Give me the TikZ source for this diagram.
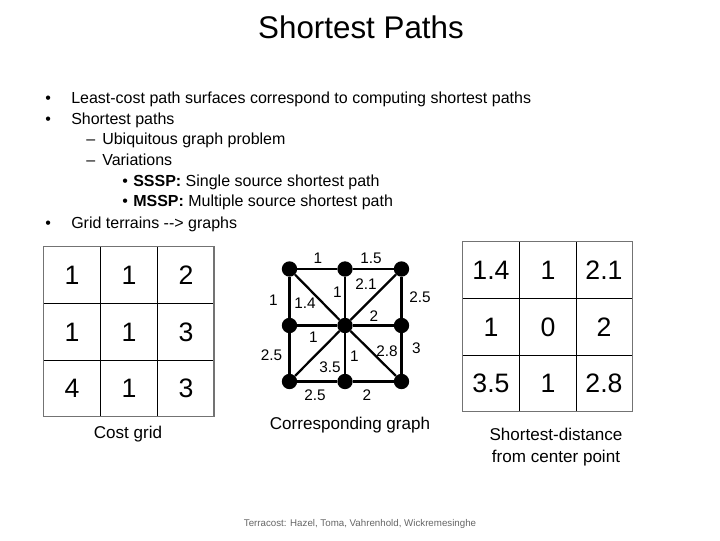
\documentclass[tikz,border=0pt]{standalone}
\usepackage{fontspec}
\setmainfont{Liberation Sans}
\begin{document}
\begin{tikzpicture}[x=0.75pt,y=-0.75pt,
  titletext/.style={font=\fontsize{23.5}{28}\selectfont, inner sep=0},
  bodytext/.style={font=\fontsize{12}{14}\selectfont, anchor=base west, inner sep=0},
  cellnum/.style={font=\fontsize{20}{24}\selectfont, inner sep=0},
  edgelab/.style={font=\fontsize{11.5}{13}\selectfont, inner sep=0},
  captext/.style={font=\fontsize{12.8}{16}\selectfont, inner sep=0, align=center},
  foottext/.style={font=\fontsize{7.3}{9}\selectfont, inner sep=0, text=black!60},
  dot/.style={circle, fill=black, draw=none, minimum size=11.5pt, inner sep=0},
  gedge/.style={line width=1.7pt},
  outerline/.style={draw=black!55, line width=1.1pt},
  innerline/.style={draw=black, line width=0.7pt}]
\useasboundingbox (0,0) rectangle (720,540);
\fill[white] (0,0) rectangle (720,540);

% title
\node[titletext] (title) at (361,27) {Shortest Paths};

% bullets
\node[bodytext] (b1) at (45,103) {•};
\node[bodytext] (t1) at (71,103) {Least-cost path surfaces correspond to computing shortest paths};
\node[bodytext] (b2) at (45,124) {•};
\node[bodytext] (t2) at (71,124) {Shortest paths};
\node[bodytext] (d1) at (86,144) {–};
\node[bodytext] (t3) at (102,144) {Ubiquitous graph problem};
\node[bodytext] (d2) at (86,165) {–};
\node[bodytext] (t4) at (102,165) {Variations};
\node[bodytext] (s1) at (122,186) {•};
\node[bodytext] (t5) at (133,186) {\textbf{SSSP:} Single source shortest path};
\node[bodytext] (s2) at (122,206) {•};
\node[bodytext] (t6) at (133,206) {\textbf{MSSP:} Multiple source shortest path};
\node[bodytext] (b3) at (45,228) {•};
\node[bodytext] (t7) at (71,228) {Grid terrains {-}{-}> graphs};

% cost grid
\draw[innerline] (100.7,246.7) -- (100.7,416.7) (157.3,246.7) -- (157.3,416.7)
  (43.3,303.3) -- (214,303.3) (43.3,360) -- (214,360);
\draw[outerline] (43.3,246.7) rectangle (214,416.7);
\node[cellnum] (c11) at (72,275) {1};
\node[cellnum] (c12) at (129,275) {1};
\node[cellnum] (c13) at (186,275) {2};
\node[cellnum] (c21) at (72,332) {1};
\node[cellnum] (c22) at (129,332) {1};
\node[cellnum] (c23) at (186,332) {3};
\node[cellnum] (c31) at (72,388) {4};
\node[cellnum] (c32) at (129,388) {1};
\node[cellnum] (c33) at (186,388) {3};

% distance grid
\draw[innerline] (519.3,241.7) -- (519.3,411.7) (576,241.7) -- (576,411.7)
  (462.3,298.3) -- (632.7,298.3) (462.3,355) -- (632.7,355);
\draw[outerline] (462.3,241.7) rectangle (632.7,411.7);
\node[cellnum] (r11) at (491,270) {1.4};
\node[cellnum] (r12) at (548,270) {1};
\node[cellnum] (r13) at (604,270) {2.1};
\node[cellnum] (r21) at (491,327) {1};
\node[cellnum] (r22) at (548,327) {0};
\node[cellnum] (r23) at (604,327) {2};
\node[cellnum] (r31) at (491,383) {3.5};
\node[cellnum] (r32) at (548,383) {1};
\node[cellnum] (r33) at (604,383) {2.8};

% graph
\node[dot] (n11) at (289.5,269) {};
\node[dot] (n12) at (345,269) {};
\node[dot] (n13) at (401.5,269) {};
\node[dot] (n21) at (289.5,325.5) {};
\node[dot] (n22) at (345,325.5) {};
\node[dot] (n23) at (401.5,325.5) {};
\node[dot] (n31) at (289.5,381.5) {};
\node[dot] (n32) at (345,381.5) {};
\node[dot] (n33) at (401.5,381.5) {};
\draw[gedge] (n11) -- (n12) -- (n13) -- (n23) -- (n33) -- (n32) -- (n31) -- (n21) -- (n11);
\draw[gedge] (n12) -- (n22) -- (n32);
\draw[gedge] (n21) -- (n22) -- (n23);
\draw[gedge] (n11) -- (n22) -- (n33);
\draw[gedge] (n13) -- (n22) -- (n31);

\node[edgelab] (l1) at (318,258) {1};
\node[edgelab] (l2) at (371,258) {1.5};
\node[edgelab] (l3) at (366,284) {2.1};
\node[edgelab] (l4) at (337.5,292) {1};
\node[edgelab] (l5) at (273.5,300) {1};
\node[edgelab] (l6) at (305,303) {1.4};
\node[edgelab] (l7) at (420,297) {2.5};
\node[edgelab] (l8) at (374,316) {2};
\node[edgelab] (l9) at (313.5,337) {1};
\node[edgelab] (l10) at (416.5,348) {3};
\node[edgelab] (l11) at (271.5,355) {2.5};
\node[edgelab] (l12) at (354.5,356.5) {1};
\node[edgelab] (l13) at (387,351) {2.8};
\node[edgelab] (l14) at (330,367) {3.5};
\node[edgelab] (l15) at (315,395) {2.5};
\node[edgelab] (l16) at (367,395) {2};

% captions
\node[captext] (cap1) at (128,434) {Cost grid};
\node[captext] (cap2) at (350,425) {Corresponding graph};
\node[captext] (cap3) at (556,447) {Shortest-distance\\from center point};

% footer
\node[foottext] (foot) at (360,524) {Terracost: Hazel, Toma, Vahrenhold, Wickremesinghe};
\end{tikzpicture}
\end{document}
